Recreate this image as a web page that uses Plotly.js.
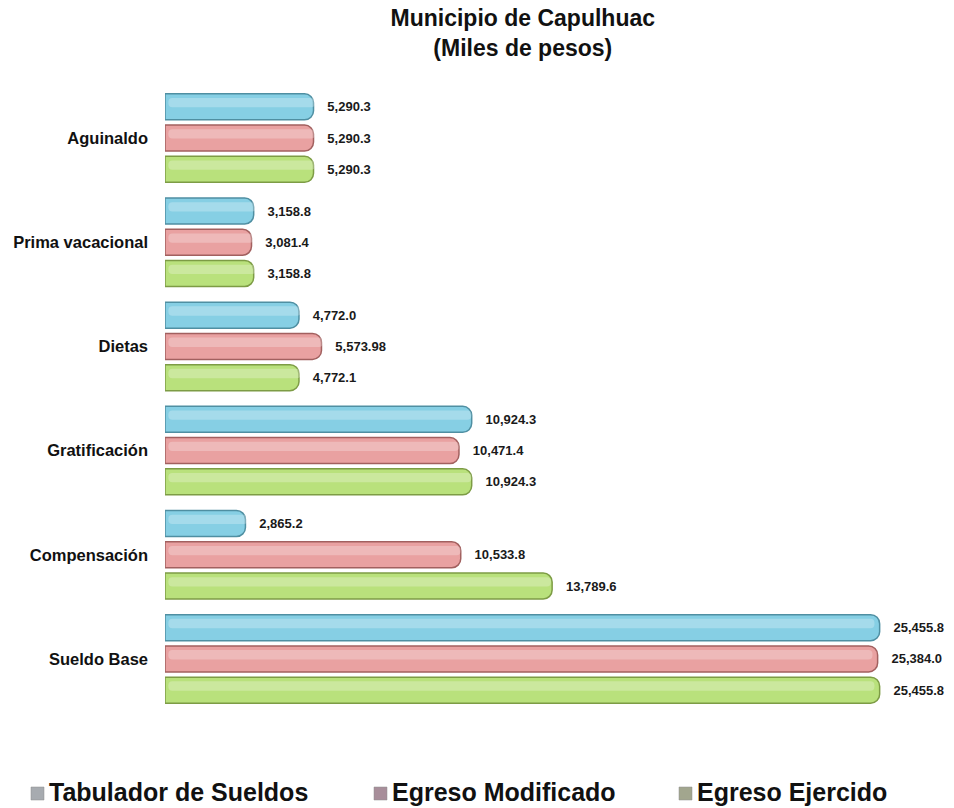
<!DOCTYPE html>
<html>
<head>
<meta charset="utf-8">
<script src="https://cdn.plot.ly/plotly-3.0.1.min.js"></script>
<style>
  html, body { margin: 0; padding: 0; background: #ffffff; }
  #chart { width: 954px; height: 808px; }
</style>
</head>
<body>
<div id="chart"></div>
<script>
// Rubros de servicios personales, de arriba hacia abajo
const categorias = ['Aguinaldo', 'Prima vacacional', 'Dietas', 'Gratificación', 'Compensación', 'Sueldo Base'];

// Importes en miles de pesos
const tabuladorSueldos = [5290.3, 3158.8, 4772.0, 10924.3, 2865.2, 25455.8];
const egresoModificado = [5290.3, 3081.4, 5573.98, 10471.4, 10533.8, 25384.0];
const egresoEjercido   = [5290.3, 3158.8, 4772.1, 10924.3, 13789.6, 25455.8];

const nombresSeries = ['Tabulador de Sueldos', 'Egreso Modificado', 'Egreso Ejercido'];

function etiqueta(v) {
  return '\u00a0\u00a0\u00a0' + v.toLocaleString('en-US', { minimumFractionDigits: 1, maximumFractionDigits: 2 });
}

const series = [
  { y: tabuladorSueldos, fill: '#86cfe4', edge: '#4f8fa2', icon: '#a7abb0', pos: -0.3, leyendaX: 31 },
  { y: egresoModificado, fill: '#e9a1a1', edge: '#a2605f', icon: '#a88e9a', pos: 0.0, leyendaX: 374 },
  { y: egresoEjercido,   fill: '#b9e17c', edge: '#7d9c45', icon: '#a2a68e', pos: 0.3, leyendaX: 679 }
];

const W = 954, H = 808;
const M = { l: 165, r: 31, t: 86, b: 97 };
const anchoBarra = 0.25;
const fuente = 'Liberation Sans, Arial, sans-serif';
const traces = [];

// Barras principales con su valor al final
series.forEach((s, i) => {
  traces.push({
    type: 'bar',
    orientation: 'h',
    name: nombresSeries[i],
    x: s.y,
    y: categorias,
    width: anchoBarra,
    offset: s.pos - anchoBarra / 2,
    marker: { color: s.fill, line: { color: s.edge, width: 1.5 }, cornerradius: 9 },
    text: s.y.map(etiqueta),
    textposition: 'outside',
    cliponaxis: false,
    textfont: { family: fuente, size: 13, color: '#1a1a1a', weight: 'bold' },
    hoverinfo: 'x+name'
  });
});

// Brillo cilíndrico sobre cada barra
series.forEach((s) => {
  traces.push({
    type: 'bar',
    orientation: 'h',
    x: s.y.map(v => v * 0.988),
    y: categorias,
    width: 0.09,
    offset: s.pos - 0.085,
    base: s.y.map(() => 120),
    marker: { color: 'rgba(255,255,255,0.26)', line: { width: 0 }, cornerradius: 4 },
    hoverinfo: 'skip'
  });
});

// Leyenda inferior: icono cuadrado y nombre de cada serie
const plotW = W - M.l - M.r, plotH = H - M.t - M.b;
const px = v => (v - M.l) / plotW;
const py = v => (H - M.b - v) / plotH;

const shapes = series.map(s => ({
  type: 'rect', xref: 'paper', yref: 'paper',
  x0: px(s.leyendaX), x1: px(s.leyendaX + 13),
  y0: py(800), y1: py(787),
  fillcolor: s.icon, line: { color: '#8f8f8f', width: 0.5 }
}));

const annotations = series.map((s, i) => ({
  xref: 'paper', yref: 'paper',
  x: px(s.leyendaX + 16), y: py(792),
  xanchor: 'left', yanchor: 'middle',
  text: nombresSeries[i], showarrow: false,
  font: { family: fuente, size: 25, color: '#111111', weight: 'bold' }
}));

const layout = {
  width: W,
  height: H,
  paper_bgcolor: '#ffffff',
  plot_bgcolor: '#ffffff',
  barmode: 'overlay',
  showlegend: false,
  margin: M,
  title: {
    text: 'Municipio de Capulhuac<br>(Miles de pesos)',
    font: { family: fuente, size: 23, color: '#111111', weight: 'bold' },
    xref: 'container', x: 0.548, xanchor: 'center',
    yref: 'container', y: 0.968, yanchor: 'middle'
  },
  xaxis: {
    range: [0, 27000],
    visible: false,
    showgrid: false,
    zeroline: false
  },
  yaxis: {
    type: 'category',
    autorange: 'reversed',
    showgrid: false,
    zeroline: false,
    showline: false,
    ticks: '',
    ticklabelstandoff: 16,
    tickfont: { family: fuente, size: 16.5, color: '#111111', weight: 'bold' }
  },
  shapes: shapes,
  annotations: annotations
};

Plotly.newPlot('chart', traces, layout, { displayModeBar: false, staticPlot: true });
</script>
</body>
</html>
